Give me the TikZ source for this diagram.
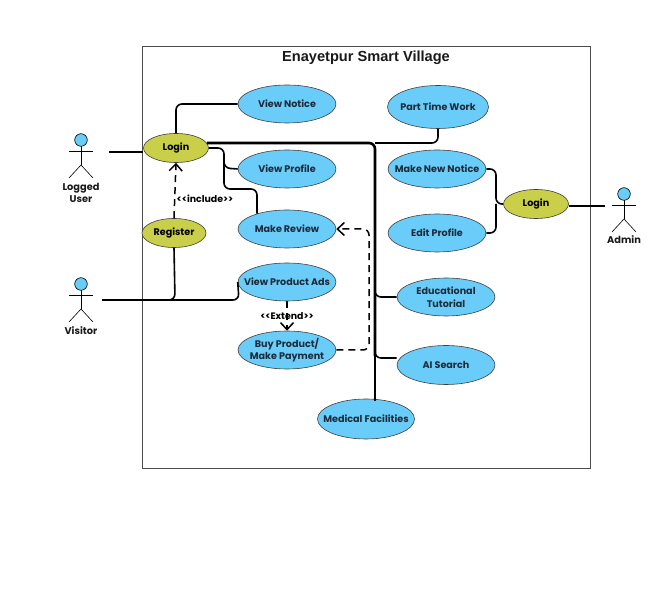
\documentclass[tikz,border=0pt]{standalone}
\usepackage{fontspec}
\setmainfont{Poppins}
\newfontfamily\titlefont{Liberation Sans}
\usepackage{xcolor}
\usepackage{tikz}
\usetikzlibrary{shapes.geometric,arrows.meta,calc}
\definecolor{casefill}{HTML}{6ACCF8}
\definecolor{loginfill}{HTML}{C9CF48}
\definecolor{casetext}{HTML}{1C2B3A}
\tikzset{
  usecase/.style={ellipse,draw=black!75,fill=casefill,line width=0.6pt,inner xsep=-20pt,inner ysep=-6pt,
    minimum width=98pt,minimum height=38pt,align=center,font=\fontsize{9.6}{12.5}\selectfont\bfseries,text=casetext},
  logincase/.style={usecase,fill=loginfill,minimum width=65pt,minimum height=29pt,text=black},
  actorlabel/.style={align=center,font=\fontsize{9.8}{12.5}\selectfont\bfseries,text=black!90},
  steplabel/.style={font=\fontsize{9.4}{10}\selectfont\bfseries,text=black,inner sep=0pt},
  link/.style={line width=1.6pt,rounded corners=6pt},
  thicklink/.style={line width=2.6pt,rounded corners=6pt},
  dep/.style={line width=1.5pt,dash pattern=on 7pt off 5pt,rounded corners=6pt,
    -{Straight Barb[length=7pt,width=13pt]}},
}
\newcommand{\stickman}[2]{%
  \draw[line width=0.6pt] (#1,#2+6) -- (#1,#2+25);
  \draw[line width=0.6pt] (#1-12,#2+11) -- (#1+12,#2+11);
  \draw[line width=0.6pt] (#1-12,#2+38) -- (#1,#2+25) -- (#1+12,#2+38);
  \draw[line width=0.6pt,fill=casefill] (#1,#2) circle (6.3);
}
\begin{document}
\begin{tikzpicture}[x=1pt,y=-1pt]
    \useasboundingbox (0,0) rectangle (665,609);
    \draw[line width=0.8pt,black!70] (142,46) rectangle (590,468);
    \node[font=\fontsize{14.6}{16}\selectfont\bfseries\titlefont,text=black!90] (title) at (366,58) {Enayetpur Smart Village};

    % connectors first, the cases sit on top
    \coordinate (userend) at (109,152);
    \coordinate (visitorend) at (102,300);
    \coordinate (adminend) at (605,206);
    \coordinate (trunktop) at (375,143);
    \coordinate (trunkend) at (375,356);

    \node[logincase] (login) at (176,148) {Login};
    \node[logincase,minimum width=64pt] (register) at (174,233) {Register};
    \node[logincase] (adminlogin) at (536,204) {Login};
    \node[usecase] (notice) at (287,104) {View Notice};
    \node[usecase,minimum width=101pt,minimum height=43pt] (parttime) at (438,107) {Part Time Work};
    \node[usecase] (profile) at (287,169) {View Profile};
    \node[usecase] (newnotice) at (437,169) {Make New Notice};
    \node[usecase] (editprofile) at (437,233) {Edit Profile};
    \node[usecase] (review) at (287,229) {Make Review};
    \node[usecase] (ads) at (287,282) {View Product Ads};
    \node[usecase] (buy) at (287,350) {Buy Product/\\Make Payment};
    \node[usecase] (tutorial) at (446,297) {Educational\\Tutorial};
    \node[usecase,minimum height=39pt] (aisearch) at (446,365) {AI Search};
    \node[usecase,minimum width=97pt,minimum height=40pt] (medical) at (366,419) {Medical Facilities};

    \draw[link] (userend) -- (login.west |- userend);
    \draw[link] (login.north) -- (176,104) -- (notice.west);
    \draw[thicklink] (login.east |- trunktop) ++(-2,0) -- (trunktop) -- (trunkend);
    \draw[link,line width=2pt] (trunkend) -- (375,401);
    \draw[link] (trunktop) -- (438,143) -- (parttime.south);
    \draw[link] (login.east) -- (224,148) -- (224,168) -- (profile.west);
    \draw[link] (224,160) -- (224,189) -- (257,189) -- (review.153);
    \draw[link] (375,290) -- (375,297) -- (tutorial.west);
    \draw[link] (375,350) -- (375,358) -- (aisearch.west |- 0,358);
    \draw[link] (visitorend) -- (175,300) -- (register.south);
    \draw[link] (visitorend) -- (239,300) -- (ads.west);
    \draw[link] (newnotice.east) -- (496,169) -- (496,204) -- (adminlogin.west);
    \draw[link] (editprofile.east) -- (496,233) -- (496,204);
    \draw[link,line width=1.1pt] (adminlogin.east |- adminend) -- (adminend);

    \draw[dep] (register.north) -- (login.south);
    \draw[dep] (ads.south) -- (buy.north);
    \draw[dep] (buy.east) -- (369,350) -- (369,229) -- (review.east);

    \node[steplabel,fill=white] (include) at (205,199) {<{}<include>{}>};
    \node[steplabel] (extend) at (287,316) {<{}<Extend>{}>};

    \stickman{81}{140}
    \stickman{81}{284}
    \stickman{624}{194}
    \node[actorlabel] (useractor) at (81,193) {Logged\\User};
    \node[actorlabel] (visitoractor) at (81,331) {Visitor};
    \node[actorlabel] (adminactor) at (624,240) {Admin};
\end{tikzpicture}
\end{document}
